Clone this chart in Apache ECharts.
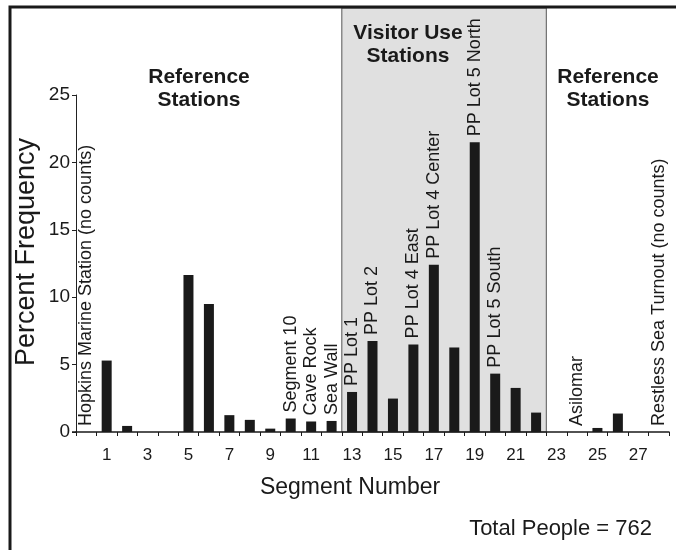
<!DOCTYPE html>
<html>
<head>
<meta charset="utf-8">
<script src="https://cdn.jsdelivr.net/npm/echarts@6/dist/echarts.min.js"></script>
<style>
html,body{margin:0;padding:0;background:#fff;}
#c{width:676px;height:550px;}
</style>
</head>
<body>
<div id="c"></div>
<script>
// Segment numbers (0 and 28 are the no-count reference stations at the ends)
const segments = ['0','1','2','3','4','5','6','7','8','9','10','11','12','13','14',
  '15','16','17','18','19','20','21','22','23','24','25','26','27','28'];
// Percent frequency per segment
const percentFrequency = [0, 5.3, 0.45, 0, 0, 11.65, 9.5, 1.25, 0.9, 0.25, 1.0, 0.78, 0.82,
  2.97, 6.75, 2.48, 6.5, 12.4, 6.27, 21.5, 4.33, 3.27, 1.44, 0, 0, 0.3, 1.37, 0, 0];
// Station names written above bars
const stationLabels = ['Hopkins Marine Station (no counts)', '', '', '', '', '', '', '', '', '',
  'Segment 10', 'Cave Rock', 'Sea Wall', 'PP Lot 1', 'PP Lot 2', '', 'PP Lot 4 East',
  'PP Lot 4 Center', '', 'PP Lot 5 North', 'PP Lot 5 South', '', '', '', 'Asilomar', '', '', '',
  'Restless Sea Turnout (no counts)'];
// Visitor use zone (first and last segment)
const visitorZone = ['13', '22'];
const yTickValues = [0, 5, 10, 15, 20, 25];

const FONT = '"Liberation Sans", Arial, Helvetica, sans-serif';
const INK = '#1a1a1a';

const chart = echarts.init(document.getElementById('c'), null, {renderer: 'canvas'});

chart.setOption({
  animation: false,
  backgroundColor: '#fff',
  grid: {left: 76, right: 7, top: 95, bottom: 118, containLabel: false},
  xAxis: {
    type: 'category',
    data: segments,
    boundaryGap: true,
    axisLine: {lineStyle: {color: INK, width: 1.5}},
    axisTick: {show: true, interval: 0, length: 4, lineStyle: {color: INK, width: 1}},
    axisLabel: {
      interval: function (i, v) { return Number(v) % 2 === 1; },
      color: INK, fontSize: 17, fontFamily: FONT, margin: 15
    },
    splitLine: {show: false}
  },
  yAxis: {
    type: 'value',
    min: yTickValues[0],
    max: yTickValues[yTickValues.length - 1],
    interval: 5,
    axisLine: {show: true, lineStyle: {color: '#222', width: 1}},
    axisTick: {show: true, length: 4, lineStyle: {color: '#222'}},
    axisLabel: {color: INK, fontSize: 19, fontFamily: FONT, margin: 6},
    splitLine: {show: false}
  },
  series: [{
    type: 'bar',
    data: percentFrequency,
    barWidth: 10,
    itemStyle: {color: INK},
    label: {
      show: true,
      position: 'top',
      rotate: 90,
      align: 'left',
      verticalAlign: 'middle',
      distance: 6,
      fontSize: 18,
      fontFamily: FONT,
      color: INK,
      formatter: function (p) { return stationLabels[p.dataIndex]; }
    }
  }]
});

const xa = function (v) { return chart.convertToPixel({xAxisIndex: 0}, v); };
const bw = xa('14') - xa('13');
const shadeLeft = xa(visitorZone[0]) - bw / 2;
const shadeRight = xa(visitorZone[1]) + bw / 2;
const yZero = chart.convertToPixel({yAxisIndex: 0}, 0);

const titleStyle = {fontSize: 21, fontWeight: 'bold', fontFamily: FONT, fill: INK,
  align: 'center', verticalAlign: 'middle', lineHeight: 23};

chart.setOption({
  graphic: [
    {type: 'rect', z: -1, silent: true,
      shape: {x: shadeLeft, y: 8, width: shadeRight - shadeLeft, height: yZero - 8},
      style: {fill: '#e0e0e0', stroke: '#555', lineWidth: 1}},
    {type: 'line', z: 1, silent: true,
      shape: {x1: 72, y1: yZero, x2: 77, y2: yZero},
      style: {stroke: INK, lineWidth: 1.5}},
    {type: 'rect', z: 10, silent: true,
      shape: {x: 10, y: 7, width: 700, height: 600},
      style: {fill: null, stroke: INK, lineWidth: 3}},
    {type: 'text', z: 10, x: 199, y: 88.5, style: Object.assign({text: 'Reference\nStations'}, titleStyle)},
    {type: 'text', z: 10, x: 408, y: 44.5, style: Object.assign({text: 'Visitor Use\nStations'}, titleStyle)},
    {type: 'text', z: 10, x: 608, y: 88.5, style: Object.assign({text: 'Reference\nStations'}, titleStyle)},
    {type: 'text', z: 10, x: 27, y: 252, rotation: Math.PI / 2,
      style: {text: 'Percent Frequency', fontSize: 27, fontFamily: FONT, fill: INK,
        align: 'center', verticalAlign: 'middle'}},
    {type: 'text', z: 10, x: 350, y: 488,
      style: {text: 'Segment Number', fontSize: 23, fontFamily: FONT, fill: INK,
        align: 'center', verticalAlign: 'middle'}},
    {type: 'text', z: 10, x: 652, y: 529,
      style: {text: 'Total People = 762', fontSize: 22, fontFamily: FONT, fill: INK,
        align: 'right', verticalAlign: 'middle'}}
  ]
});
</script>
</body>
</html>
